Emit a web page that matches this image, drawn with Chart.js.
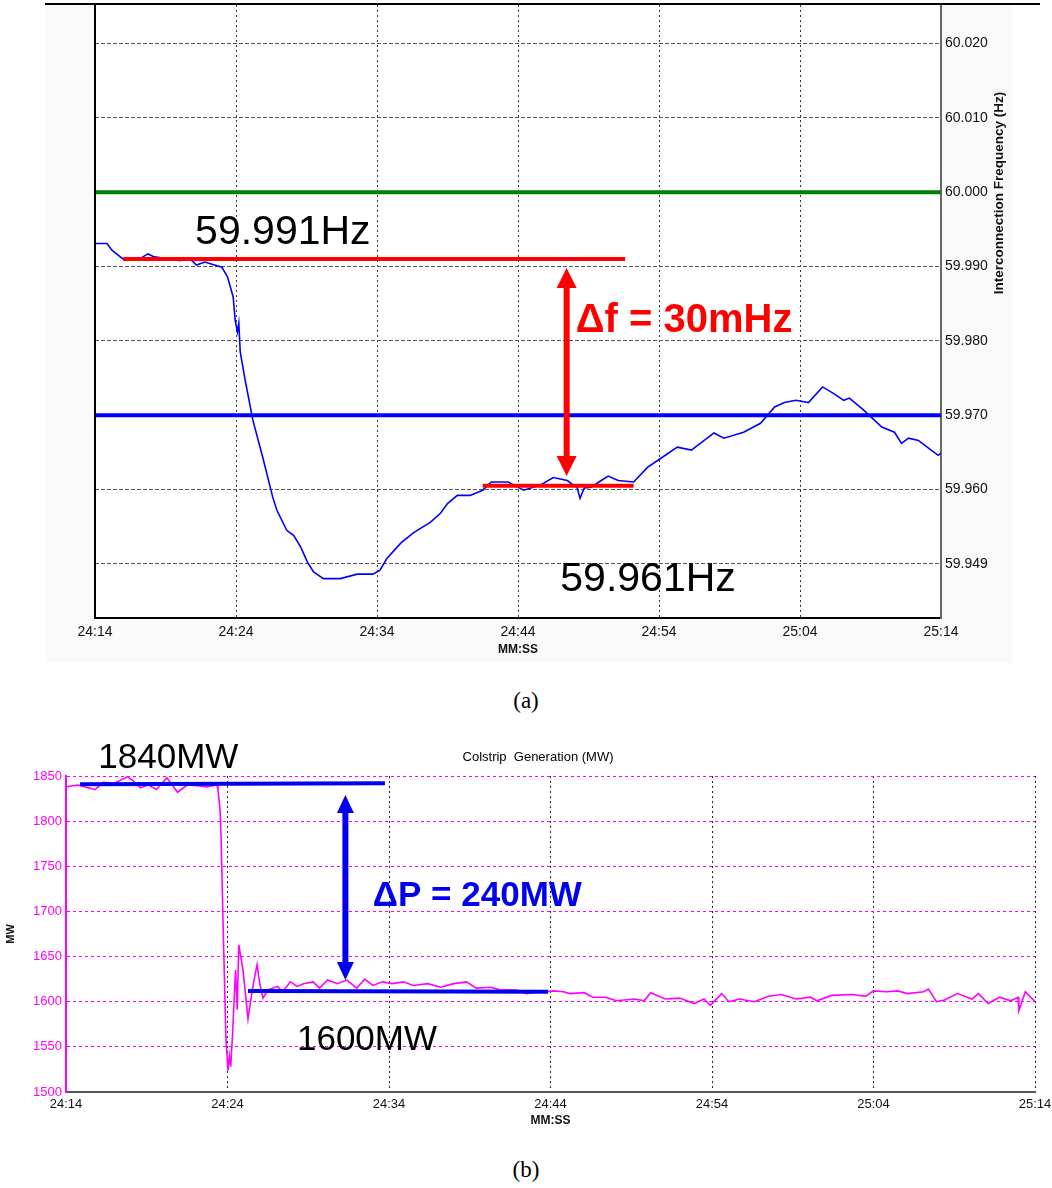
<!DOCTYPE html>
<html>
<head>
<meta charset="utf-8">
<script src="https://cdn.jsdelivr.net/npm/chart.js@4"></script>
<style>
  html, body { margin: 0; padding: 0; background: #ffffff; }
  body { width: 1052px; height: 1188px; position: relative; overflow: hidden; }
  #cA { position: absolute; left: 0; top: 0; }
  #cB { position: absolute; left: 0; top: 735px; }
  .cap { position: absolute; width: 1052px; text-align: center; font-family: 'Liberation Serif', 'DejaVu Serif', serif; font-size: 23px; color: #000; }
</style>
</head>
<body>
<canvas id="cA" width="1052" height="665"></canvas>
<div class="cap" style="top:688px;">(a)</div>
<canvas id="cB" width="1052" height="400"></canvas>
<div class="cap" style="top:1157px;">(b)</div>
<script>
// ---------- DATA ----------
// time axis (seconds after 24:14)
const xTickValues = [0, 10, 20, 30, 40, 50, 60];
const xTickLabels = ['24:14', '24:24', '24:34', '24:44', '24:54', '25:04', '25:14'];

// (a) interconnection frequency
const yTickValuesA = [60.02, 60.01, 60.0, 59.99, 59.98, 59.97, 59.96, 59.95];
const yTickLabelsA = ['60.020', '60.010', '60.000', '59.990', '59.980', '59.970', '59.960', '59.949'];
const timeA = [0, 0.85, 1.2, 2.0, 2.5, 3.05, 3.4, 3.76, 4.2, 4.6, 5.5, 6.0, 6.7, 7.2, 7.8, 8.3, 9.0, 9.4, 9.8, 9.94, 10.1, 10.2, 10.3, 10.65, 11.2, 11.9, 12.6, 12.9, 13.6, 14.1, 14.6, 15.1, 15.5, 16.2, 17.4, 18.6, 19.7, 20.2, 20.7, 21.7, 22.6, 23.8, 24.5, 25.0, 25.7, 26.6, 27.5, 28.1, 29.3, 30.4, 31.6, 32.5, 33.5, 34.2, 34.4, 34.7, 35.2, 35.9, 36.4, 37.1, 38.2, 39.2, 39.9, 41.3, 42.3, 43.9, 44.6, 46.0, 47.2, 48.2, 48.9, 49.7, 50.6, 51.6, 52.4, 53.1, 53.5, 54.5, 55.8, 56.7, 57.2, 57.7, 58.4, 59.3, 59.8, 60.0];
const freqA = [59.9931, 59.9931, 59.9922, 59.9910, 59.9911, 59.9909, 59.9913, 59.9917, 59.9913, 59.9912, 59.9911, 59.9908, 59.9911, 59.9902, 59.9906, 59.9903, 59.9899, 59.9886, 59.9859, 59.9828, 59.9812, 59.9824, 59.9785, 59.9747, 59.9693, 59.9643, 59.9590, 59.9572, 59.9545, 59.9538, 59.9522, 59.9501, 59.9489, 59.9480, 59.9480, 59.9486, 59.9486, 59.9491, 59.9507, 59.9528, 59.9542, 59.9556, 59.9568, 59.9581, 59.9592, 59.9592, 59.9599, 59.9610, 59.9610, 59.9599, 59.9606, 59.9616, 59.9612, 59.9602, 59.9588, 59.9602, 59.9603, 59.9612, 59.9618, 59.9612, 59.9610, 59.9630, 59.9639, 59.9657, 59.9653, 59.9676, 59.9669, 59.9677, 59.9689, 59.9711, 59.9717, 59.9720, 59.9717, 59.9738, 59.9729, 59.9720, 59.9723, 59.9707, 59.9684, 59.9677, 59.9662, 59.9669, 59.9666, 59.9653, 59.9646, 59.9649];
const nominalFreq = 60.000;
const thresholdFreq = 59.970;
const preEventFreq = 59.991;
const settlingFreq = 59.9605;
const preEventSpan = [2.0, 37.6];
const settlingSpan = [27.5, 38.2];
const deltaFArrow = [33.45, 59.9898, 59.9618];

// (b) Colstrip generation
const yTickValuesB = [1500, 1550, 1600, 1650, 1700, 1750, 1800, 1850];
const yTickLabelsB = ['1500', '1550', '1600', '1650', '1700', '1750', '1800', '1850'];
const timeB = [0, 0.74, 1.8, 2.3, 3.0, 3.8, 4.15, 4.6, 5.1, 5.6, 6.25, 6.9, 7.5, 8.3, 8.7, 9.35, 9.41, 9.54, 9.6, 9.72, 9.9, 10.03, 10.12, 10.2, 10.3, 10.5, 10.6, 10.7, 10.96, 11.27, 11.6, 11.83, 12.0, 12.2, 12.5, 13.1, 13.4, 13.9, 14.3, 14.7, 15.3, 15.7, 16.2, 16.8, 17.4, 18.0, 18.5, 19.0, 19.6, 20.2, 20.9, 21.5, 22.4, 23.2, 24.0, 24.8, 25.4, 26.3, 26.9, 27.9, 28.5, 29.35, 29.7, 30.2, 30.8, 31.2, 32.1, 32.6, 33.4, 34.1, 35.2, 35.8, 36.2, 37.1, 38.0, 38.9, 39.5, 39.9, 40.6, 41.05, 41.7, 42.6, 43.5, 44.3, 45.2, 46.1, 46.5, 47.4, 48.7, 49.5, 50.0, 50.8, 51.5, 52.1, 53.1, 53.4, 53.9, 54.4, 55.2, 56.1, 56.5, 57.1, 57.8, 58.5, 58.95, 59.0, 59.4, 60.0];
const powerB = [1838, 1840, 1835, 1843, 1842, 1849, 1845, 1837, 1840, 1835, 1848, 1832, 1840, 1839, 1838, 1840, 1835, 1812, 1783, 1691, 1561, 1524, 1540, 1528, 1560, 1635, 1591, 1663, 1635, 1581, 1620, 1641, 1620, 1604, 1613, 1617, 1611, 1622, 1617, 1620, 1622, 1615, 1624, 1620, 1624, 1615, 1625, 1618, 1622, 1620, 1622, 1618, 1620, 1616, 1620, 1622, 1615, 1616, 1613, 1613, 1609, 1611, 1611, 1612, 1611, 1609, 1610, 1605, 1605, 1601, 1603, 1601, 1610, 1603, 1604, 1598, 1603, 1596, 1609, 1600, 1603, 1600, 1606, 1608, 1603, 1605, 1601, 1607, 1608, 1606, 1612, 1611, 1612, 1609, 1611, 1614, 1600, 1602, 1609, 1603, 1609, 1598, 1605, 1601, 1605, 1590, 1611, 1600];
const preEventPower = [1841, 1842];
const preEventPowerSpan = [0.87, 19.75];
const settledPower = [1612, 1611];
const settledPowerSpan = [11.27, 29.85];
const deltaPArrow = [17.3, 1829, 1624];

// ---------- HELPERS ----------
const SANS = "'Liberation Sans', Arial, sans-serif";
const pts = (xs, ys) => xs.map((x, i) => ({ x: x, y: ys[i] }));
const hline = (span, vals) => [{ x: span[0], y: vals[0] }, { x: span[1], y: vals[1] }];

function drawVArrow(ctx, x, yTop, yBot, shaftW, headW, headL, color) {
  ctx.save();
  ctx.fillStyle = color;
  ctx.fillRect(x - shaftW / 2, yTop + headL - 1, shaftW, (yBot - yTop) - 2 * headL + 2);
  ctx.beginPath();
  ctx.moveTo(x, yTop); ctx.lineTo(x - headW / 2, yTop + headL); ctx.lineTo(x + headW / 2, yTop + headL); ctx.closePath(); ctx.fill();
  ctx.beginPath();
  ctx.moveTo(x, yBot); ctx.lineTo(x - headW / 2, yBot - headL); ctx.lineTo(x + headW / 2, yBot - headL); ctx.closePath(); ctx.fill();
  ctx.restore();
}
function drawText(ctx, txt, x, y, font, color) {
  ctx.save();
  ctx.font = font; ctx.fillStyle = color; ctx.textAlign = 'left'; ctx.textBaseline = 'alphabetic';
  ctx.fillText(txt, x, y);
  ctx.restore();
}

// ---------- CHART (a) ----------
const plugA = {
  id: 'plugA',
  beforeDraw(chart) {
    const { ctx, chartArea: a } = chart;
    ctx.save();
    ctx.fillStyle = '#ffffff'; ctx.fillRect(0, 0, chart.width, chart.height);
    ctx.fillStyle = '#fafafa'; ctx.fillRect(45, 5, 967, 658);
    ctx.fillStyle = '#ffffff'; ctx.fillRect(a.left, a.top, a.right - a.left, a.bottom - a.top);
    ctx.restore();
  },
  afterDraw(chart) {
    const { ctx, chartArea: a, scales: { x, y } } = chart;
    ctx.save();
    // top rule and left frame
    ctx.fillStyle = '#000'; ctx.fillRect(45, 3, 995, 2);
    ctx.fillStyle = '#000'; ctx.fillRect(a.left - 1, a.top, 2, a.bottom - a.top);
    // right axis title
    ctx.translate(999, 193); ctx.rotate(-Math.PI / 2);
    ctx.font = 'bold 13.5px ' + SANS; ctx.fillStyle = '#111'; ctx.textAlign = 'center'; ctx.textBaseline = 'middle';
    ctx.fillText('Interconnection Frequency (Hz)', 0, 0);
    ctx.restore();
    // annotations
    drawText(ctx, '59.991Hz', x.getPixelForValue(7.1), y.getPixelForValue(59.9930), '41px ' + SANS, '#000');
    drawText(ctx, '59.961Hz', x.getPixelForValue(33.0), y.getPixelForValue(59.9464), '41px ' + SANS, '#000');
    drawText(ctx, '\u0394f = 30mHz', x.getPixelForValue(34.1), y.getPixelForValue(59.9812), 'bold 40px ' + SANS, '#ff0000');
    drawVArrow(ctx, x.getPixelForValue(deltaFArrow[0]), y.getPixelForValue(deltaFArrow[1]), y.getPixelForValue(deltaFArrow[2]), 6, 20, 20, '#ff0000');
  }
};

new Chart(document.getElementById('cA'), {
  type: 'line',
  data: {
    datasets: [
      { data: hline(preEventSpan, [preEventFreq, preEventFreq]), borderColor: '#ff0000', borderWidth: 4 },
      { data: hline(settlingSpan, [settlingFreq, settlingFreq]), borderColor: '#ff0000', borderWidth: 4 },
      { data: pts(timeA, freqA), borderColor: '#0000ff', borderWidth: 1.6 },
      { data: hline([0, 60], [nominalFreq, nominalFreq]), borderColor: '#008000', borderWidth: 4 },
      { data: hline([0, 60], [thresholdFreq, thresholdFreq]), borderColor: '#0000ff', borderWidth: 4 }
    ]
  },
  options: {
    responsive: false, animation: false, devicePixelRatio: 1,
    layout: { padding: { left: 95, top: 5, right: 0, bottom: 0 } },
    elements: { point: { radius: 0 }, line: { tension: 0 } },
    plugins: { legend: { display: false }, tooltip: { enabled: false } },
    scales: {
      x: {
        type: 'linear', min: 0, max: 60,
        afterBuildTicks: s => { s.ticks = xTickValues.map(v => ({ value: v })); },
        afterFit: s => { s.height = 47; s.paddingLeft = 0; s.paddingRight = 0; },
        ticks: { callback: (v) => xTickLabels[xTickValues.indexOf(v)], font: { size: 14, family: SANS }, color: '#111', padding: 6, maxRotation: 0, autoSkip: false },
        grid: { color: '#333', lineWidth: 1, drawTicks: false },
        border: { color: '#000', width: 2, dash: [2, 3] },
        title: { display: true, text: 'MM:SS', font: { size: 12, weight: 'bold', family: SANS }, color: '#111', padding: { top: 0, bottom: 8 } }
      },
      y: {
        type: 'linear', position: 'right', min: 59.9427, max: 60.0252,
        afterBuildTicks: s => { s.ticks = yTickValuesA.map(v => ({ value: v })); },
        afterFit: s => { s.width = 111; s.paddingTop = 0; s.paddingBottom = 0; },
        ticks: { callback: (v) => yTickLabelsA[yTickValuesA.findIndex(t => Math.abs(t - v) < 1e-6)], font: { size: 14, family: SANS }, color: '#111', padding: 4, autoSkip: false },
        grid: { color: '#555', lineWidth: 1, drawTicks: false },
        border: { color: '#666', width: 2, dash: [4, 2] }
      }
    }
  },
  plugins: [plugA]
});

// ---------- CHART (b) ----------
const plugB = {
  id: 'plugB',
  beforeDraw(chart) {
    const { ctx } = chart;
    ctx.save(); ctx.fillStyle = '#ffffff'; ctx.fillRect(0, 0, chart.width, chart.height); ctx.restore();
  },
  afterDraw(chart) {
    const { ctx, scales: { x, y } } = chart;
    ctx.save();
    ctx.font = '13px ' + SANS; ctx.fillStyle = '#000'; ctx.textAlign = 'center'; ctx.textBaseline = 'middle';
    ctx.fillText('Colstrip  Generation (MW)', 538, 22);
    ctx.restore();
    drawText(ctx, '1840MW', x.getPixelForValue(2.0), y.getPixelForValue(1858.8), '35px ' + SANS, '#000');
    drawText(ctx, '1600MW', x.getPixelForValue(14.3), y.getPixelForValue(1546.9), '35px ' + SANS, '#000');
    drawText(ctx, '\u0394P = 240MW', x.getPixelForValue(19.0), y.getPixelForValue(1706.2), 'bold 35px ' + SANS, '#0000ee');
    drawVArrow(ctx, x.getPixelForValue(deltaPArrow[0]), y.getPixelForValue(deltaPArrow[1]), y.getPixelForValue(deltaPArrow[2]), 6, 17, 18, '#0000ee');
  }
};

new Chart(document.getElementById('cB'), {
  type: 'line',
  data: {
    datasets: [
      { data: hline(preEventPowerSpan, preEventPower), borderColor: '#0000ee', borderWidth: 4 },
      { data: hline(settledPowerSpan, settledPower), borderColor: '#0000ee', borderWidth: 4 },
      { data: pts(timeB, powerB), borderColor: '#ff00ff', borderWidth: 1.6 }
    ]
  },
  options: {
    responsive: false, animation: false, devicePixelRatio: 1,
    layout: { padding: { left: 0, top: 41, right: 17, bottom: 0 } },
    elements: { point: { radius: 0 }, line: { tension: 0 } },
    plugins: { legend: { display: false }, tooltip: { enabled: false } },
    scales: {
      x: {
        type: 'linear', min: 0, max: 60,
        afterBuildTicks: s => { s.ticks = xTickValues.map(v => ({ value: v })); },
        afterFit: s => { s.height = 43; s.paddingLeft = 0; s.paddingRight = 0; },
        ticks: { callback: (v) => xTickLabels[xTickValues.indexOf(v)], font: { size: 13, family: SANS }, color: '#111', padding: 5, maxRotation: 0, autoSkip: false },
        grid: { color: '#222', lineWidth: 1, drawTicks: false },
        border: { color: '#555', width: 2, dash: [2, 3] },
        title: { display: true, text: 'MM:SS', font: { size: 12, weight: 'bold', family: SANS }, color: '#111', padding: { top: 0, bottom: 7 } }
      },
      y: {
        type: 'linear', position: 'left', min: 1500, max: 1850,
        afterBuildTicks: s => { s.ticks = yTickValuesB.map(v => ({ value: v })); },
        afterFit: s => { s.width = 66; s.paddingTop = 0; s.paddingBottom = 0; },
        ticks: { callback: (v) => yTickLabelsB[yTickValuesB.indexOf(v)], font: { size: 13, family: SANS }, color: '#ff00ff', padding: 4, autoSkip: false },
        grid: { color: '#ff00ff', lineWidth: 1, drawTicks: false },
        border: { color: '#ff00ff', width: 2, dash: [3, 3] },
        title: { display: true, text: 'MW', font: { size: 11, weight: 'bold', family: SANS }, color: '#111', padding: { top: 4, bottom: 0 } }
      }
    }
  },
  plugins: [plugB]
});
</script>
</body>
</html>
